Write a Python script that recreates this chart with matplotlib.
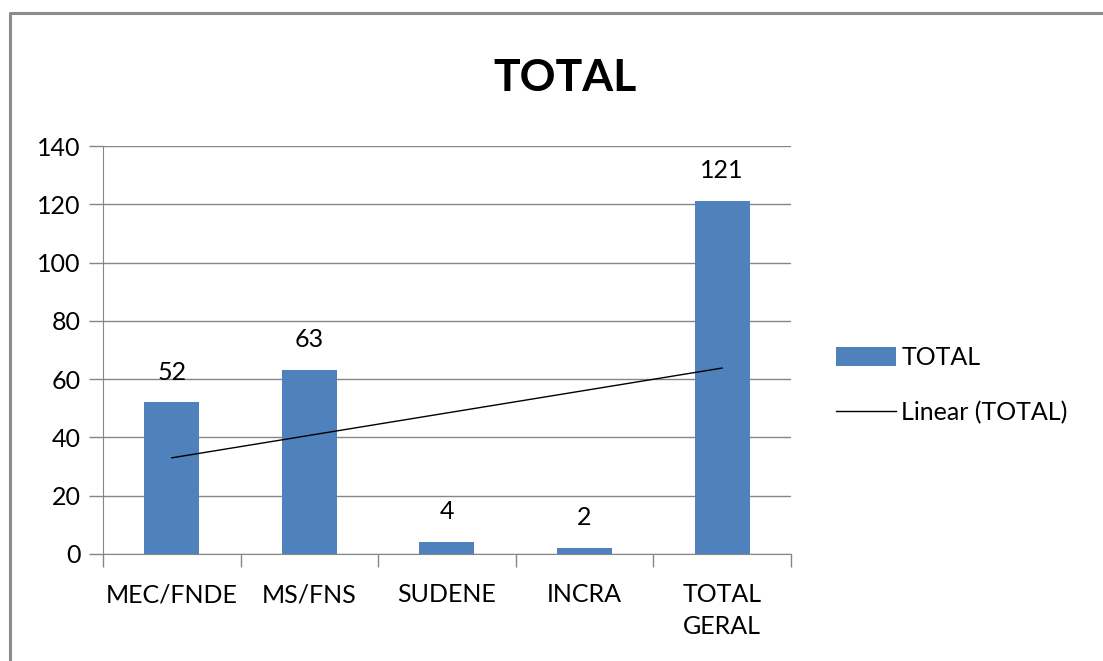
import matplotlib
matplotlib.use("Agg")
import matplotlib.pyplot as plt
import numpy as np
from matplotlib.lines import Line2D

# values
categories = ['MEC/FNDE', 'MS/FNS', 'SUDENE', 'INCRA', 'TOTAL\nGERAL']
totals = [52, 63, 4, 2, 121]
yticks = [0, 20, 40, 60, 80, 100, 120, 140]

plt.rcParams['font.family'] = ['Lato', 'DejaVu Sans']
fs = 18

fig = plt.figure(figsize=(11.03, 6.61), dpi=100)
ax = fig.add_axes([0.0934, 0.1619, 0.6236, 0.6172])

x = np.arange(1, len(categories) + 1)
bars = ax.bar(x, totals, width=0.4, color='#4F81BD', label='TOTAL', zorder=3)

# linear trendline like excel
slope, icpt = np.polyfit(x, totals, 1)
trend, = ax.plot(x[[0, -1]], slope * x[[0, -1]] + icpt, color='black', lw=1.0,
                 label='Linear (TOTAL)', zorder=4)

for xi, v in zip(x, totals):
    ax.text(xi, v + 6.5, str(v), ha='center', va='bottom', fontsize=fs)

ax.set_xlim(0.5, len(categories) + 0.5)
ax.set_ylim(0, 140)
ax.set_yticks(yticks)
ax.set_yticklabels([str(t) for t in yticks], fontsize=fs)
ax.yaxis.grid(True, color='#868686', lw=1, zorder=0)

# category labels between boundary ticks
ax.set_xticks(np.arange(0.5, len(categories) + 1, 1))
ax.set_xticklabels([])
ax.set_xticks(x, minor=True)
ax.set_xticklabels(categories, minor=True, fontsize=fs, linespacing=1.45, va='top')
ax.tick_params(axis='x', which='minor', length=0, pad=21)
ax.tick_params(axis='x', which='major', length=9, color='#868686', width=1)
ax.tick_params(axis='y', length=10, color='#868686', width=1, pad=6)

for s in ['top', 'right']:
    ax.spines[s].set_visible(False)
for s in ['left', 'bottom']:
    ax.spines[s].set_color('#868686')

fig.text(0.512, 0.882, 'TOTAL', ha='center', va='center', fontsize=32,
         fontweight='bold')

fig.legend([bars, trend], ['TOTAL', 'Linear (TOTAL)'], loc='upper left',
           bbox_to_anchor=(0.749, 0.492), frameon=False,
           fontsize=fs, handlelength=2.4, handleheight=0.8, handletextpad=0.2,
           labelspacing=1.3, borderaxespad=0)

# outer chart frame, only left and top edges are visible
fig.add_artist(Line2D([0.0095, 0.0095, 1.0], [0.0, 0.981, 0.981],
                      transform=fig.transFigure, color='#8c8c8c', lw=2.2))

fig.savefig('out.png', dpi=100)
